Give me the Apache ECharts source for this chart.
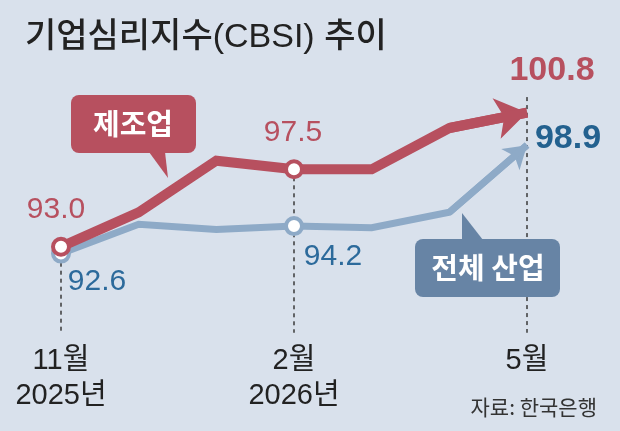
<!DOCTYPE html>
<html>
<head>
<meta charset="utf-8">
<script src="https://cdn.jsdelivr.net/npm/echarts@6/dist/echarts.min.js"></script>
<style>
html,body{margin:0;padding:0;background:#d9e1ec;}
#chart{width:620px;height:431px;}
</style>
</head>
<body>
<div id="chart"></div>
<script>
// ---- data ----
const months = ['11월', '12월', '1월', '2월', '3월', '4월', '5월'];
const yearLabels = ['2025년', '', '', '2026년', '', '', ''];
const manufacturing = [93.0, 95.0, 98.0, 97.5, 97.5, 99.9, 100.8];
const allIndustry = [92.6, 94.3, 94.0, 94.2, 94.1, 95.0, 98.9];
const markedIdx = [0, 3];        // points drawn as open circles
const labeledIdx = [0, 3, 6];    // points with value labels
const yMin = 88, yMax = 102;
const guideTop = 101.7;          // top of the last dashed guide

// ---- styles ----
const RED = '#b7505f';
const BLUE_LINE = '#8eaac7';
const BLUE_TEXT = '#2c6a9b';
const BLUE_BOX = '#6784a5';
const FONT = "'Liberation Sans','Noto Sans CJK KR',sans-serif";
const KFONT = "'Noto Sans CJK KR','Liberation Sans',sans-serif";

const redLabelOffsets = {0: [-5, -37], 3: [-1, -37], 6: [25, -42]};
const blueLabelOffsets = {0: [36, 28], 3: [39, 31], 6: [41, -7]};

function buildData(values, color, offsets, labelColor, lastBoldColor) {
  return values.map((v, i) => {
    const item = {value: v};
    if (markedIdx.includes(i)) {
      item.symbol = 'circle';
      item.symbolSize = 16;
      item.itemStyle = {color: '#ffffff', borderColor: color, borderWidth: 4};
    } else {
      item.symbol = 'circle';
      item.symbolSize = 1;
      item.itemStyle = {color: color, borderWidth: 0};
    }
    if (labeledIdx.includes(i)) {
      const last = i === values.length - 1;
      item.label = {
        show: true,
        position: 'inside',
        offset: offsets[i],
        formatter: v.toFixed(1),
        color: last ? lastBoldColor : labelColor,
        fontSize: last ? 34 : 30,
        fontWeight: last ? 'bold' : 'normal',
        fontFamily: FONT
      };
    } else {
      item.label = {show: false};
    }
    return item;
  });
}

function guide(idx, from) {
  return [
    {coord: [months[idx], from], symbol: 'none'},
    {coord: [months[idx], yMin], symbol: 'none',
     lineStyle: {type: [4, 4], color: '#3a3a3a', width: 1.5}}
  ];
}

function arrowSeg(values, size, color, width) {
  const n = values.length;
  return [
    {coord: [months[n - 2], values[n - 2]], symbol: 'none'},
    {coord: [months[n - 1], values[n - 1]], symbol: 'arrow', symbolSize: size,
     lineStyle: {color: color, width: width, type: 'solid'}}
  ];
}

const chart = echarts.init(document.getElementById('chart'), null, {renderer: 'canvas'});

const option = {
  backgroundColor: '#d9e1ec',
  animation: false,
  title: {
    text: '기업심리지수(CBSI) 추이',
    left: 25, top: 21, padding: 0,
    textStyle: {fontSize: 34, fontWeight: 500, color: '#222', fontFamily: FONT}
  },
  grid: {left: 61, right: 93, top: 91.9, bottom: 98.3, containLabel: false},
  xAxis: {
    type: 'category',
    data: months,
    boundaryGap: false,
    axisLine: {show: false},
    axisTick: {show: false},
    splitLine: {show: false},
    axisLabel: {
      interval: (i) => labeledIdx.includes(i),
      formatter: (v, i) => yearLabels[i] ? v + '\n' + yearLabels[i] : v,
      margin: 11,
      fontSize: 29,
      lineHeight: 35,
      color: '#222',
      fontFamily: FONT
    }
  },
  yAxis: {type: 'value', min: yMin, max: yMax, show: false},
  series: [
    {
      name: '전체 산업',
      type: 'line',
      z: 2,
      silent: true,
      emphasis: {disabled: true},
      data: buildData(allIndustry, BLUE_LINE, blueLabelOffsets, BLUE_TEXT, '#23618f'),
      lineStyle: {color: BLUE_LINE, width: 7, join: 'miter'},
      markLine: {
        z: 1, silent: true, animation: false,
        symbol: 'none',
        label: {show: false},
        emphasis: {disabled: true},
        data: [arrowSeg(allIndustry, [21, 22], BLUE_LINE, 7)]
      }
    },
    {
      name: '제조업',
      type: 'line',
      z: 3,
      silent: true,
      emphasis: {disabled: true},
      data: buildData(manufacturing, RED, redLabelOffsets, RED, RED),
      lineStyle: {color: RED, width: 10, join: 'miter'},
      markLine: {
        z: 1, silent: true, animation: false,
        symbol: 'none',
        label: {show: false},
        emphasis: {disabled: true},
        data: [
          guide(0, manufacturing[0]),
          guide(3, manufacturing[3]),
          guide(6, guideTop),
          arrowSeg(manufacturing, [31, 31], RED, 10)
        ]
      }
    }
  ],
  graphic: [
    {type: 'rect', shape: {x: 71, y: 95, width: 125, height: 58, r: 8}, style: {fill: RED}, z: 10},
    {type: 'polygon', shape: {points: [[149, 152], [165, 152], [168, 178]]}, style: {fill: RED}, z: 10},
    {type: 'text', x: 133, y: 124, style: {text: '제조업', fill: '#fff', font: 'bold 29px ' + KFONT, align: 'center', verticalAlign: 'middle'}, z: 11},
    {type: 'rect', shape: {x: 415, y: 239, width: 145, height: 58, r: 8}, style: {fill: BLUE_BOX}, z: 10},
    {type: 'polygon', shape: {points: [[462, 240], [483, 240], [462, 213]]}, style: {fill: BLUE_BOX}, z: 10},
    {type: 'text', x: 488, y: 268, style: {text: '전체 산업', fill: '#fff', font: 'bold 29px ' + KFONT, align: 'center', verticalAlign: 'middle'}, z: 11},
    {type: 'text', x: 597, y: 407, style: {text: '자료: 한국은행', fill: '#333', font: '21px ' + KFONT, align: 'right', verticalAlign: 'middle'}, z: 11}
  ]
};
chart.setOption(option);
</script>
</body>
</html>
